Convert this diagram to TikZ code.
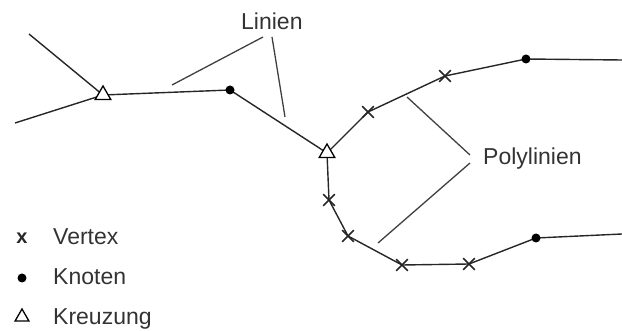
\documentclass[tikz,border=0pt]{standalone}
\usepackage{fontspec}
\setmainfont{Liberation Sans}
\usetikzlibrary{shapes.geometric,shapes.misc}
\begin{document}
\begin{tikzpicture}[x=1pt,y=-1pt,
  line/.style={draw=black!85, line width=1.4pt, line join=round},
  leader/.style={draw=black!75, line width=1.3pt},
  xmark/.style={cross out, draw=black!85, line width=1.6pt, minimum size=10pt, inner sep=0pt},
  knot/.style={circle, fill=black, minimum size=9pt, inner sep=0pt},
  crossing/.style={regular polygon, regular polygon sides=3, draw=black, fill=white,
    line width=1.3pt, minimum size=18pt, inner sep=0pt},
  lbl/.style={font=\fontsize{23}{27}\selectfont, text=black!80, inner sep=0pt, anchor=base west}]
\useasboundingbox (0,0) rectangle (622,331);

% vertices of the network
\coordinate (a1) at (29,34);
\coordinate (a2) at (15,123);
\coordinate (t1) at (103,95);
\coordinate (k1) at (230,90);
\coordinate (t2) at (327,153);
\coordinate (u1) at (368,112);
\coordinate (u2) at (445,76);
\coordinate (k2) at (526,59);
\coordinate (ue) at (622,60);
\coordinate (l1) at (329,200);
\coordinate (l2) at (348,236);
\coordinate (l3) at (402,265);
\coordinate (l4) at (469,264);
\coordinate (k3) at (536,238);
\coordinate (le) at (622,234);

% lines and polylines
\draw[line] (a1) -- (t1);
\draw[line] (a2) -- (t1);
\draw[line] (t1) -- (k1) -- (t2);
\draw[line] (t2) -- (u1) -- (u2) -- (k2) -- (ue);
\draw[line] (t2) -- (l1) -- (l2) -- (l3) -- (l4) -- (k3) -- (le);

% markers
\node[crossing] (T1) at (t1) {};
\node[crossing] (T2) at (t2) {};
\node[knot] (K1) at (k1) {};
\node[knot] (K2) at (k2) {};
\node[knot] (K3) at (k3) {};
\node[xmark] (U1) at (u1) {};
\node[xmark] (U2) at (u2) {};
\node[xmark] (L1) at (l1) {};
\node[xmark] (L2) at (l2) {};
\node[xmark] (L3) at (l3) {};
\node[xmark] (L4) at (l4) {};

% labels with their leader lines
\node[lbl] (linien) at (241,30) {Linien};
\coordinate (p1) at (263,37); \coordinate (q1) at (172,85);
\coordinate (p2) at (272,37); \coordinate (q2) at (285,117);
\draw[leader] (p1) -- (q1);
\draw[leader] (p2) -- (q2);

\node[lbl] (poly) at (483,165) {Polylinien};
\coordinate (p3) at (470,155); \coordinate (q3) at (407,97);
\coordinate (p4) at (470,163); \coordinate (q4) at (378,243);
\draw[leader] (p3) -- (q3);
\draw[leader] (p4) -- (q4);

% legend
\node[font=\fontsize{20}{22}\selectfont\bfseries, text=black!85, inner sep=0pt] (lx) at (22,238) {x};
\node[knot] (lk) at (22,278) {};
\node[crossing, minimum size=16pt] (lt) at (22,317) {};
\node[lbl] (vertex) at (53,245) {Vertex};
\node[lbl] (knoten) at (53,285) {Knoten};
\node[lbl] (kreuz) at (53,325) {Kreuzung};
\end{tikzpicture}
\end{document}
